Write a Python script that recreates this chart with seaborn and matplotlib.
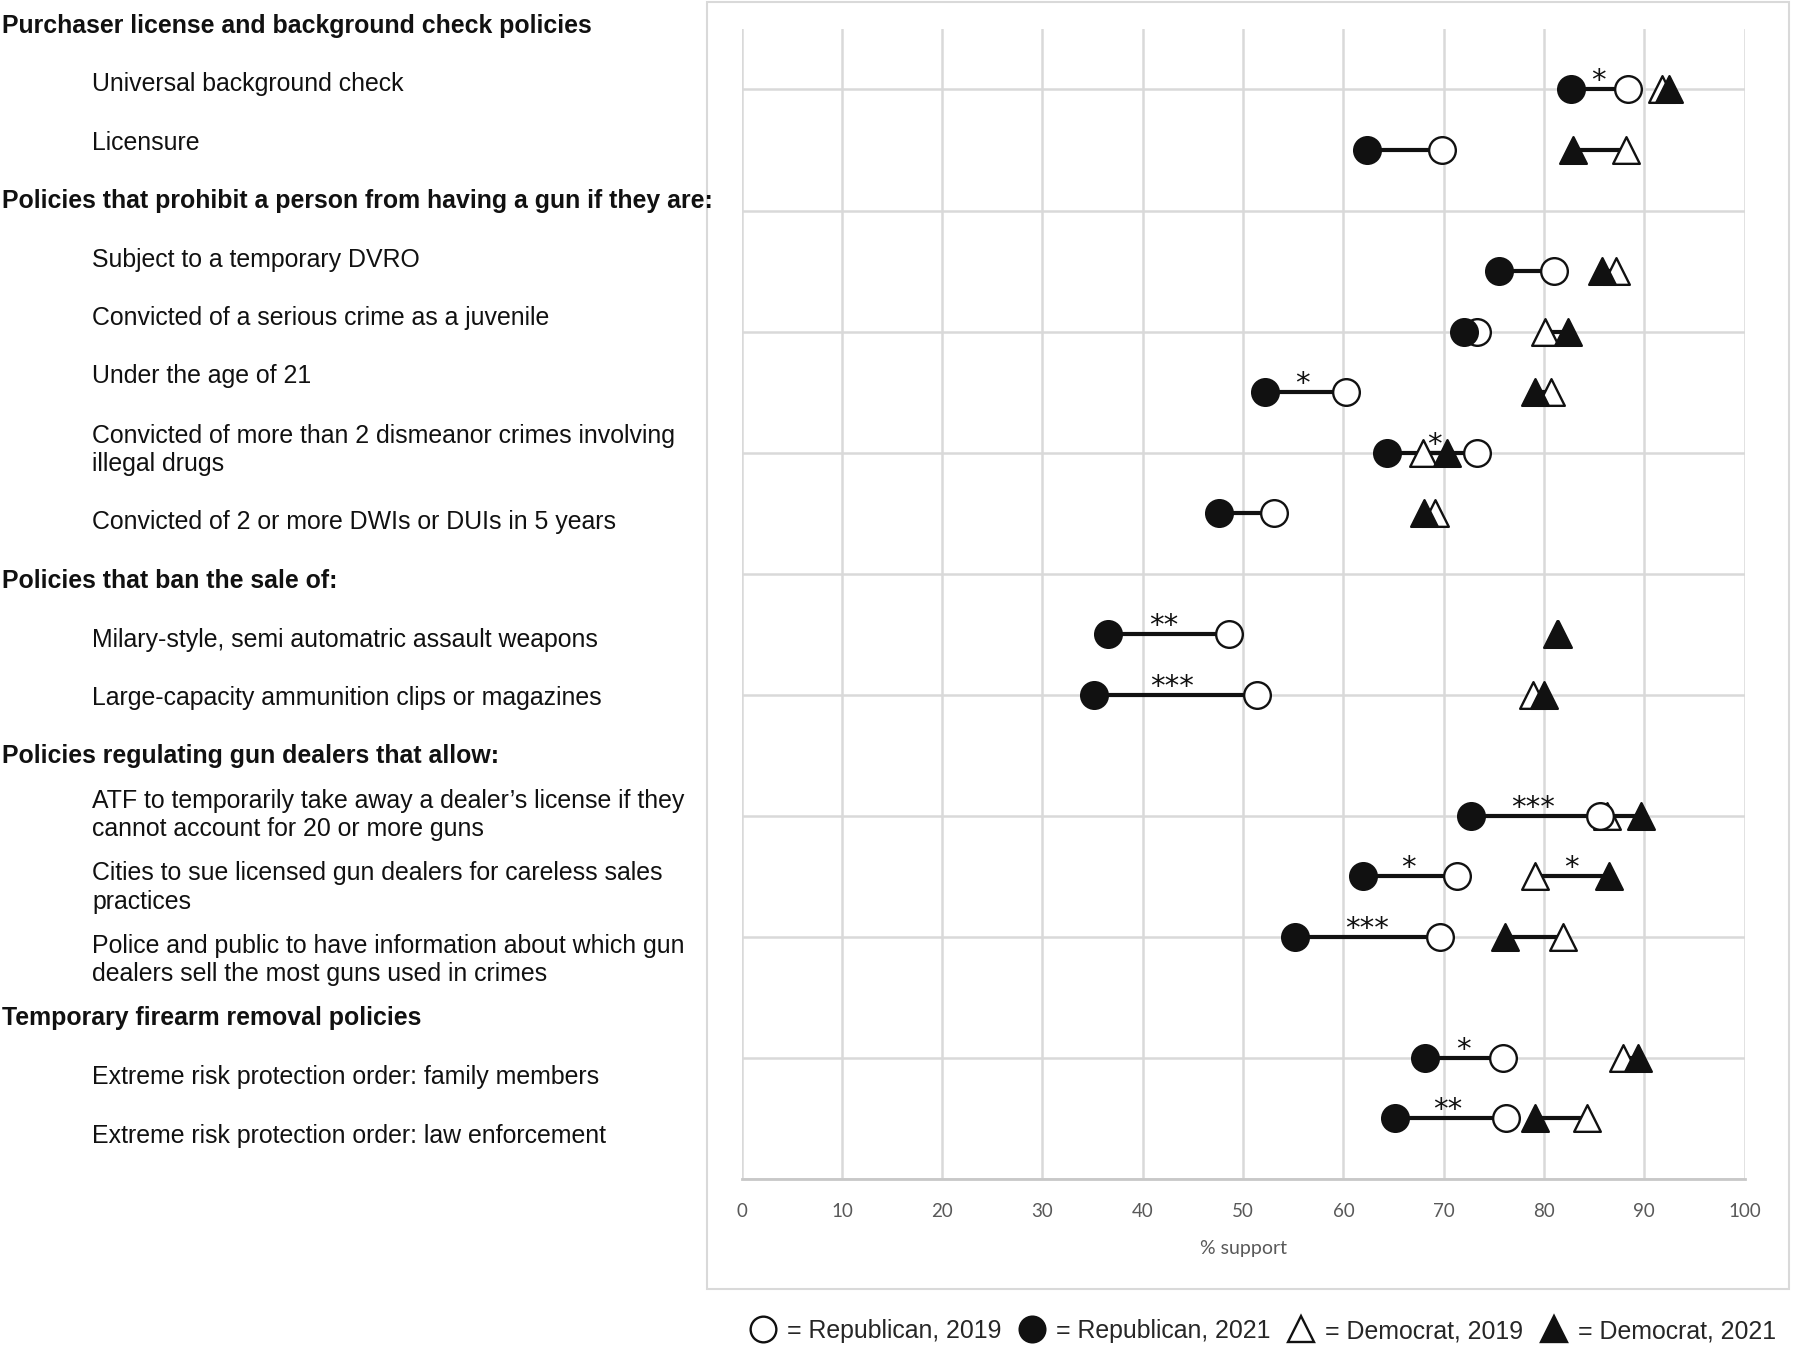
import matplotlib.pyplot as plt
from matplotlib.lines import Line2D
from matplotlib.patches import Rectangle
import numpy as np
import pandas as pd
import seaborn as sns

# policy rows (top to bottom), grouped by section
sections = [
    "Purchaser license and background check policies",
    "Policies that prohibit a person from having a gun if they are:",
    "Policies that ban the sale of:",
    "Policies regulating gun dealers that allow:",
    "Temporary firearm removal policies",
]
section_items = [
    ["Universal background check", "Licensure"],
    ["Subject to a temporary DVRO",
     "Convicted of a serious crime as a juvenile",
     "Under the age of 21",
     "Convicted of more than 2 dismeanor crimes involving\nillegal drugs",
     "Convicted of 2 or more DWIs or DUIs in 5 years"],
    ["Milary-style, semi automatric assault weapons",
     "Large-capacity ammunition clips or magazines"],
    ["ATF to temporarily take away a dealer\u2019s license if they\ncannot account for 20 or more guns",
     "Cities to sue licensed gun dealers for careless sales\npractices",
     "Police and public to have information about which gun\ndealers sell the most guns used in crimes"],
    ["Extreme risk protection order: family members",
     "Extreme risk protection order: law enforcement"],
]

# % support, one value per policy row
rep_2019 = [88.4, 69.8, 81.0, 73.3, 60.3, 73.3, 53.1, 48.6, 51.4, 85.6, 71.3, 69.6, 75.9, 76.2]
rep_2021 = [82.7, 62.4, 75.5, 72.0, 52.2, 64.3, 47.6, 36.5, 35.1, 72.7, 62.0, 55.2, 68.1, 65.1]
dem_2019 = [91.8, 88.2, 87.2, 80.1, 80.7, 67.9, 69.1, 81.3, 78.9, 86.3, 79.1, 81.9, 87.9, 84.3]
dem_2021 = [92.5, 82.9, 85.8, 82.4, 79.1, 70.3, 68.0, 81.4, 80.0, 89.7, 86.5, 76.1, 89.4, 79.1]

# significance marks: policy row index, x position, text
star_row = [0, 4, 5, 7, 8, 9, 10, 10, 11, 12, 13]
star_x = [85.4, 55.9, 69.1, 42.1, 42.9, 78.9, 66.5, 82.7, 62.4, 72.0, 70.4]
star_txt = ["*", "*", "*", "**", "***", "***", "*", "*", "***", "*", "**"]

# y slot for every line of the left-hand list (headers take a slot too)
n_slots = len(sections) + sum(len(s) for s in section_items)
slot_text, slot_bold, item_y = [], [], []
k = 0
for head, items in zip(sections, section_items):
    slot_text.append(head); slot_bold.append(True); k += 1
    for it in items:
        slot_text.append(it); slot_bold.append(False)
        item_y.append(n_slots - k)
        k += 1
item_y = np.array(item_y)

df = pd.DataFrame({"y": item_y, "r19": rep_2019, "r21": rep_2021,
                   "d19": dem_2019, "d21": dem_2021})

sns.set_style("white")
plt.rcParams["font.family"] = ["Liberation Sans", "DejaVu Sans"]

W, H = 1800, 1346
fig = plt.figure(figsize=(W / 100, H / 100), dpi=100)
ax = fig.add_axes([0.412, 0.1241, 0.5572, 0.8544])

# chart area border
fig.patches.append(Rectangle((707 / W, 1 - 1289 / H), (1789 - 707) / W, (1289 - 2) / H,
                             transform=fig.transFigure, fill=False,
                             edgecolor="#d9d9d9", lw=1.5, zorder=0))

ink = "#111111"
ax.hlines(df["y"], df["r21"], df["r19"], color=ink, lw=3.0, zorder=2)
ax.hlines(df["y"], df["d19"], df["d21"], color=ink, lw=3.0, zorder=2)

ms = 19.2 ** 2
sns.scatterplot(data=df, x="d19", y="y", marker="^", s=ms, color="white",
                edgecolor=ink, linewidth=1.7, ax=ax, zorder=3)
sns.scatterplot(data=df, x="d21", y="y", marker="^", s=ms, color=ink,
                edgecolor=ink, linewidth=1.7, ax=ax, zorder=4)
sns.scatterplot(data=df, x="r19", y="y", marker="o", s=ms, color="white",
                edgecolor=ink, linewidth=1.7, ax=ax, zorder=5)
sns.scatterplot(data=df, x="r21", y="y", marker="o", s=ms, color=ink,
                edgecolor=ink, linewidth=1.7, ax=ax, zorder=6)

for r, x, t in zip(star_row, star_x, star_txt):
    ax.text(x, item_y[r], t, ha="center", va="baseline", fontsize=21,
            family="DejaVu Sans", color=ink, zorder=7)

ax.set_xlim(0, 100)
ax.set_ylim(0, n_slots)
ax.set_xticks(range(0, 101, 10))
ax.set_yticks(range(0, n_slots, 2))
ax.set_yticklabels([])
ax.set_xlabel("% support", fontsize=14, color="#595959", family="Lato", labelpad=15)
ax.set_ylabel("")
ax.grid(True, color="#d9d9d9", lw=1.8)
ax.set_axisbelow(True)
for s in ["top", "left", "right"]:
    ax.spines[s].set_visible(False)
ax.spines["bottom"].set_color("#c8c8c8")
ax.spines["bottom"].set_linewidth(2)
ax.tick_params(axis="y", length=0)
ax.tick_params(axis="x", length=4, width=1.5, color="#c8c8c8", pad=13,
               labelsize=13.5, labelcolor="#595959")
for lab in ax.get_xticklabels():
    lab.set_family("Lato")

# left-hand policy list
label_y = [23, 81.5, 140, 198.6, 257, 315.7, 374, 447.7, 520, 578.6, 637, 695.7,
           754, 812.8, 885, 957.4, 1016, 1074.5, 1133]
for txt, bold, yp in zip(slot_text, slot_bold, label_y):
    fig.text((2 if bold else 92) / W, 1 - (yp + 2.5) / H, txt, ha="left", va="center",
             fontsize=17.9, fontweight="bold" if bold else "normal",
             color=ink, linespacing=1.22)

handles = [
    Line2D([], [], ls="", marker="o", ms=18.5, mfc="white", mec=ink, mew=1.7),
    Line2D([], [], ls="", marker="o", ms=18.5, mfc=ink, mec=ink, mew=1.7),
    Line2D([], [], ls="", marker="^", ms=18.5, mfc="white", mec=ink, mew=1.7),
    Line2D([], [], ls="", marker="^", ms=18.5, mfc=ink, mec=ink, mew=1.7),
]
names = ["= Republican, 2019", "= Republican, 2021", "= Democrat, 2019", "= Democrat, 2021"]
fig.legend(handles, names, loc="center", bbox_to_anchor=(0.7017, 0.0110), ncol=4,
           frameon=False, fontsize=17.9, handlelength=1.0, handletextpad=0.45,
           columnspacing=0.75, borderpad=0, borderaxespad=0)

fig.savefig("out.png", dpi=100)
